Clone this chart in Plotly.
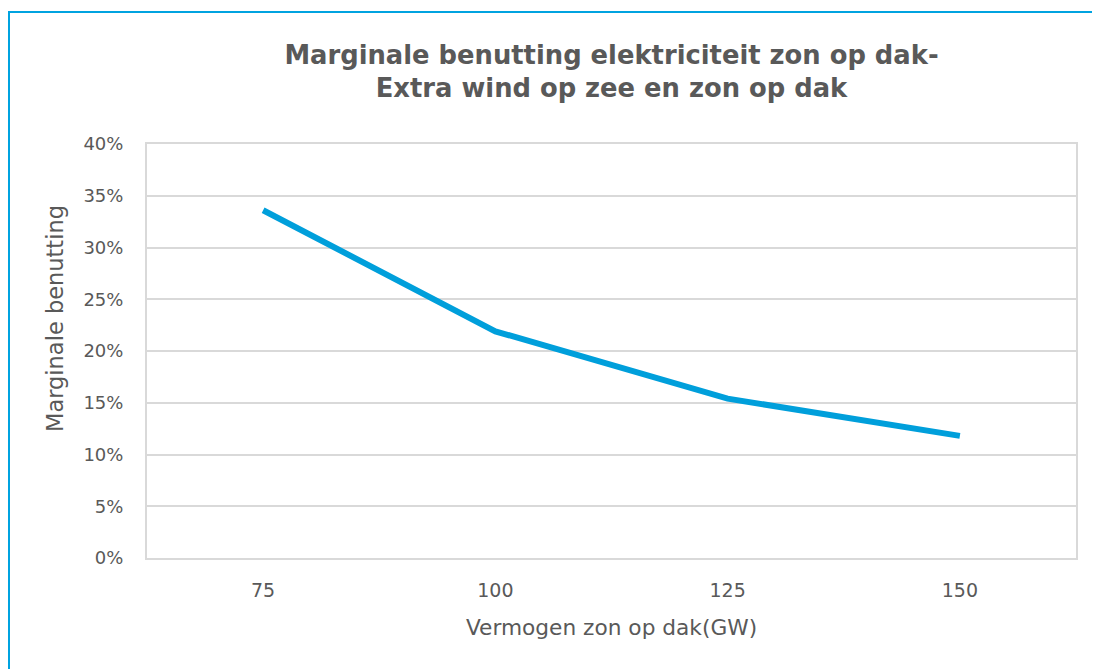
import plotly.graph_objects as go

# capaciteit zon op dak (GW) en marginale benutting
vermogen = ['75', '100', '125', '150']
benutting = [0.336, 0.219, 0.154, 0.118]
y_ticks = [0, 0.05, 0.10, 0.15, 0.20, 0.25, 0.30, 0.35, 0.40]

grey = '#595959'
font_name = 'DejaVu Sans'

fig = go.Figure(
    go.Scatter(x=vermogen, y=benutting, mode='lines',
               line=dict(color='#009fdb', width=6), showlegend=False)
)

# de pagina heeft 8px body-marge, dus figuur iets kleiner
W, H = 1092, 661
ml, mr, mt, mb = 139, 24, 136, 111
pw, ph = W - ml - mr, H - mt - mb

# blauwe kader rond de grafiek
fig.add_shape(type='rect', xref='paper', yref='paper',
              x0=(1 - ml) / pw, x1=(W + 20 - ml) / pw,
              y0=-(mb + 20) / ph, y1=(H - mb - 4) / ph,
              line=dict(color='#00a3e0', width=2))

# y-as titel staat in het origineel iets boven het midden
fig.add_annotation(text='Marginale benutting', textangle=-90, showarrow=False,
                   xref='paper', yref='paper', x=(47 - ml) / pw, y=(H - mb - 311) / ph,
                   xanchor='center', yanchor='middle', font=dict(size=22.5, color=grey))

fig.update_layout(
    width=W, height=H,
    margin=dict(l=ml, r=mr, t=mt, b=mb),
    paper_bgcolor='white', plot_bgcolor='white',
    font=dict(family=font_name, color=grey, size=19),
    title=dict(text='<b>Marginale benutting elektriciteit zon op dak-<br>Extra wind op zee en zon op dak</b>',
               x=0.5, xref='paper', xanchor='center', y=1 - 55.5 / H, yanchor='middle',
               font=dict(size=25.8, color=grey)),
    xaxis=dict(title=dict(text='Vermogen zon op dak(GW)', standoff=20, font=dict(size=21.7)),
               type='category', range=[-0.5, 3.5], showgrid=False, ticks='',
               ticklabelstandoff=14, showline=True, mirror=True,
               linecolor='#d9d9d9', linewidth=2, tickfont=dict(size=19)),
    yaxis=dict(range=[0, 0.40], tickvals=y_ticks, tickformat='.0%', ticks='',
               ticklabelstandoff=18,
               showgrid=True, gridcolor='#d9d9d9', gridwidth=2, zeroline=False,
               showline=True, mirror=True, linecolor='#d9d9d9', linewidth=2,
               tickfont=dict(size=18)),
)

fig.write_html('out.html')
